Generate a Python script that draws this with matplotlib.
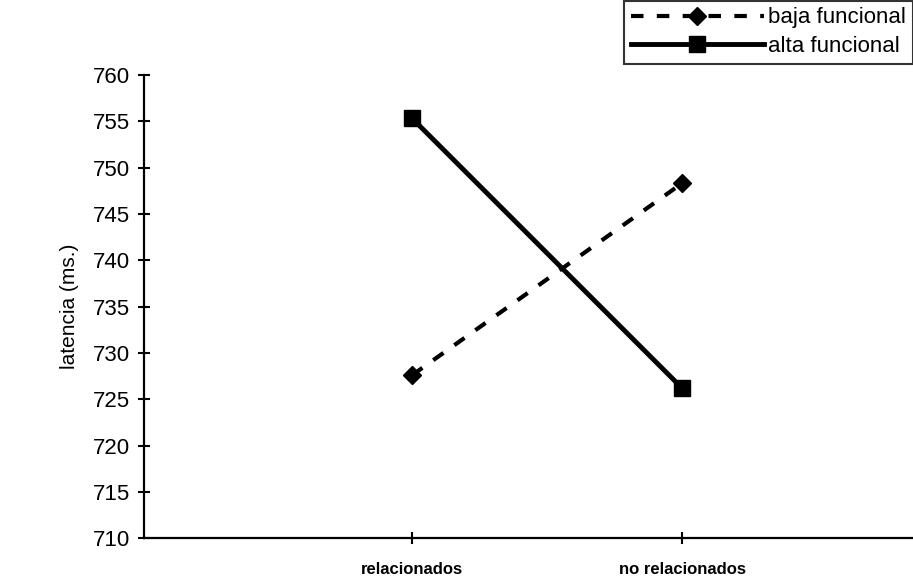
import matplotlib
matplotlib.use("Agg")
import matplotlib.pyplot as plt

# data
categories = ["relacionados", "no relacionados"]
baja_funcional = [727.6, 748.3]
alta_funcional = [755.3, 726.2]
y_ticks = list(range(710, 761, 5))

plt.rcParams["font.family"] = ["Liberation Sans", "DejaVu Sans"]

fig = plt.figure(figsize=(9.13, 5.85), dpi=100)
ax = fig.add_axes([0.158, 0.080, 0.842, 0.792])

xs = list(range(len(categories)))
ax.plot(xs, baja_funcional, color="black", ls=(0, (3, 3.2)), lw=3,
        marker="D", markersize=9, label="baja funcional")
ax.plot(xs, alta_funcional, color="black", ls="-", lw=3.5,
        marker="s", markersize=12, label="alta funcional")

ax.set_ylim(710, 760)
ax.set_yticks(y_ticks)
ax.set_xlim(-0.993, 1.856)
ax.set_xticks(xs)
ax.set_xticklabels(categories, fontsize=12, fontweight="bold")

for side in ("top", "right"):
    ax.spines[side].set_visible(False)
ax.spines["left"].set_linewidth(1.6)
ax.spines["bottom"].set_linewidth(1.6)
ax.tick_params(axis="y", direction="inout", length=9, width=1.5, labelsize=16, pad=6)
ax.tick_params(axis="x", direction="inout", length=8, width=1.5, pad=13)

ax.set_ylabel("latencia (ms.)", fontsize=15, labelpad=10)

leg = ax.legend(loc="upper right", bbox_to_anchor=(1.0, 1.16), fontsize=16,
                frameon=True, fancybox=False, edgecolor="black",
                handlelength=6.0, borderpad=0.3, labelspacing=0.35,
                handletextpad=0.2, borderaxespad=0.0)
leg.get_frame().set_linewidth(1.5)

fig.savefig("out.png", dpi=100)
